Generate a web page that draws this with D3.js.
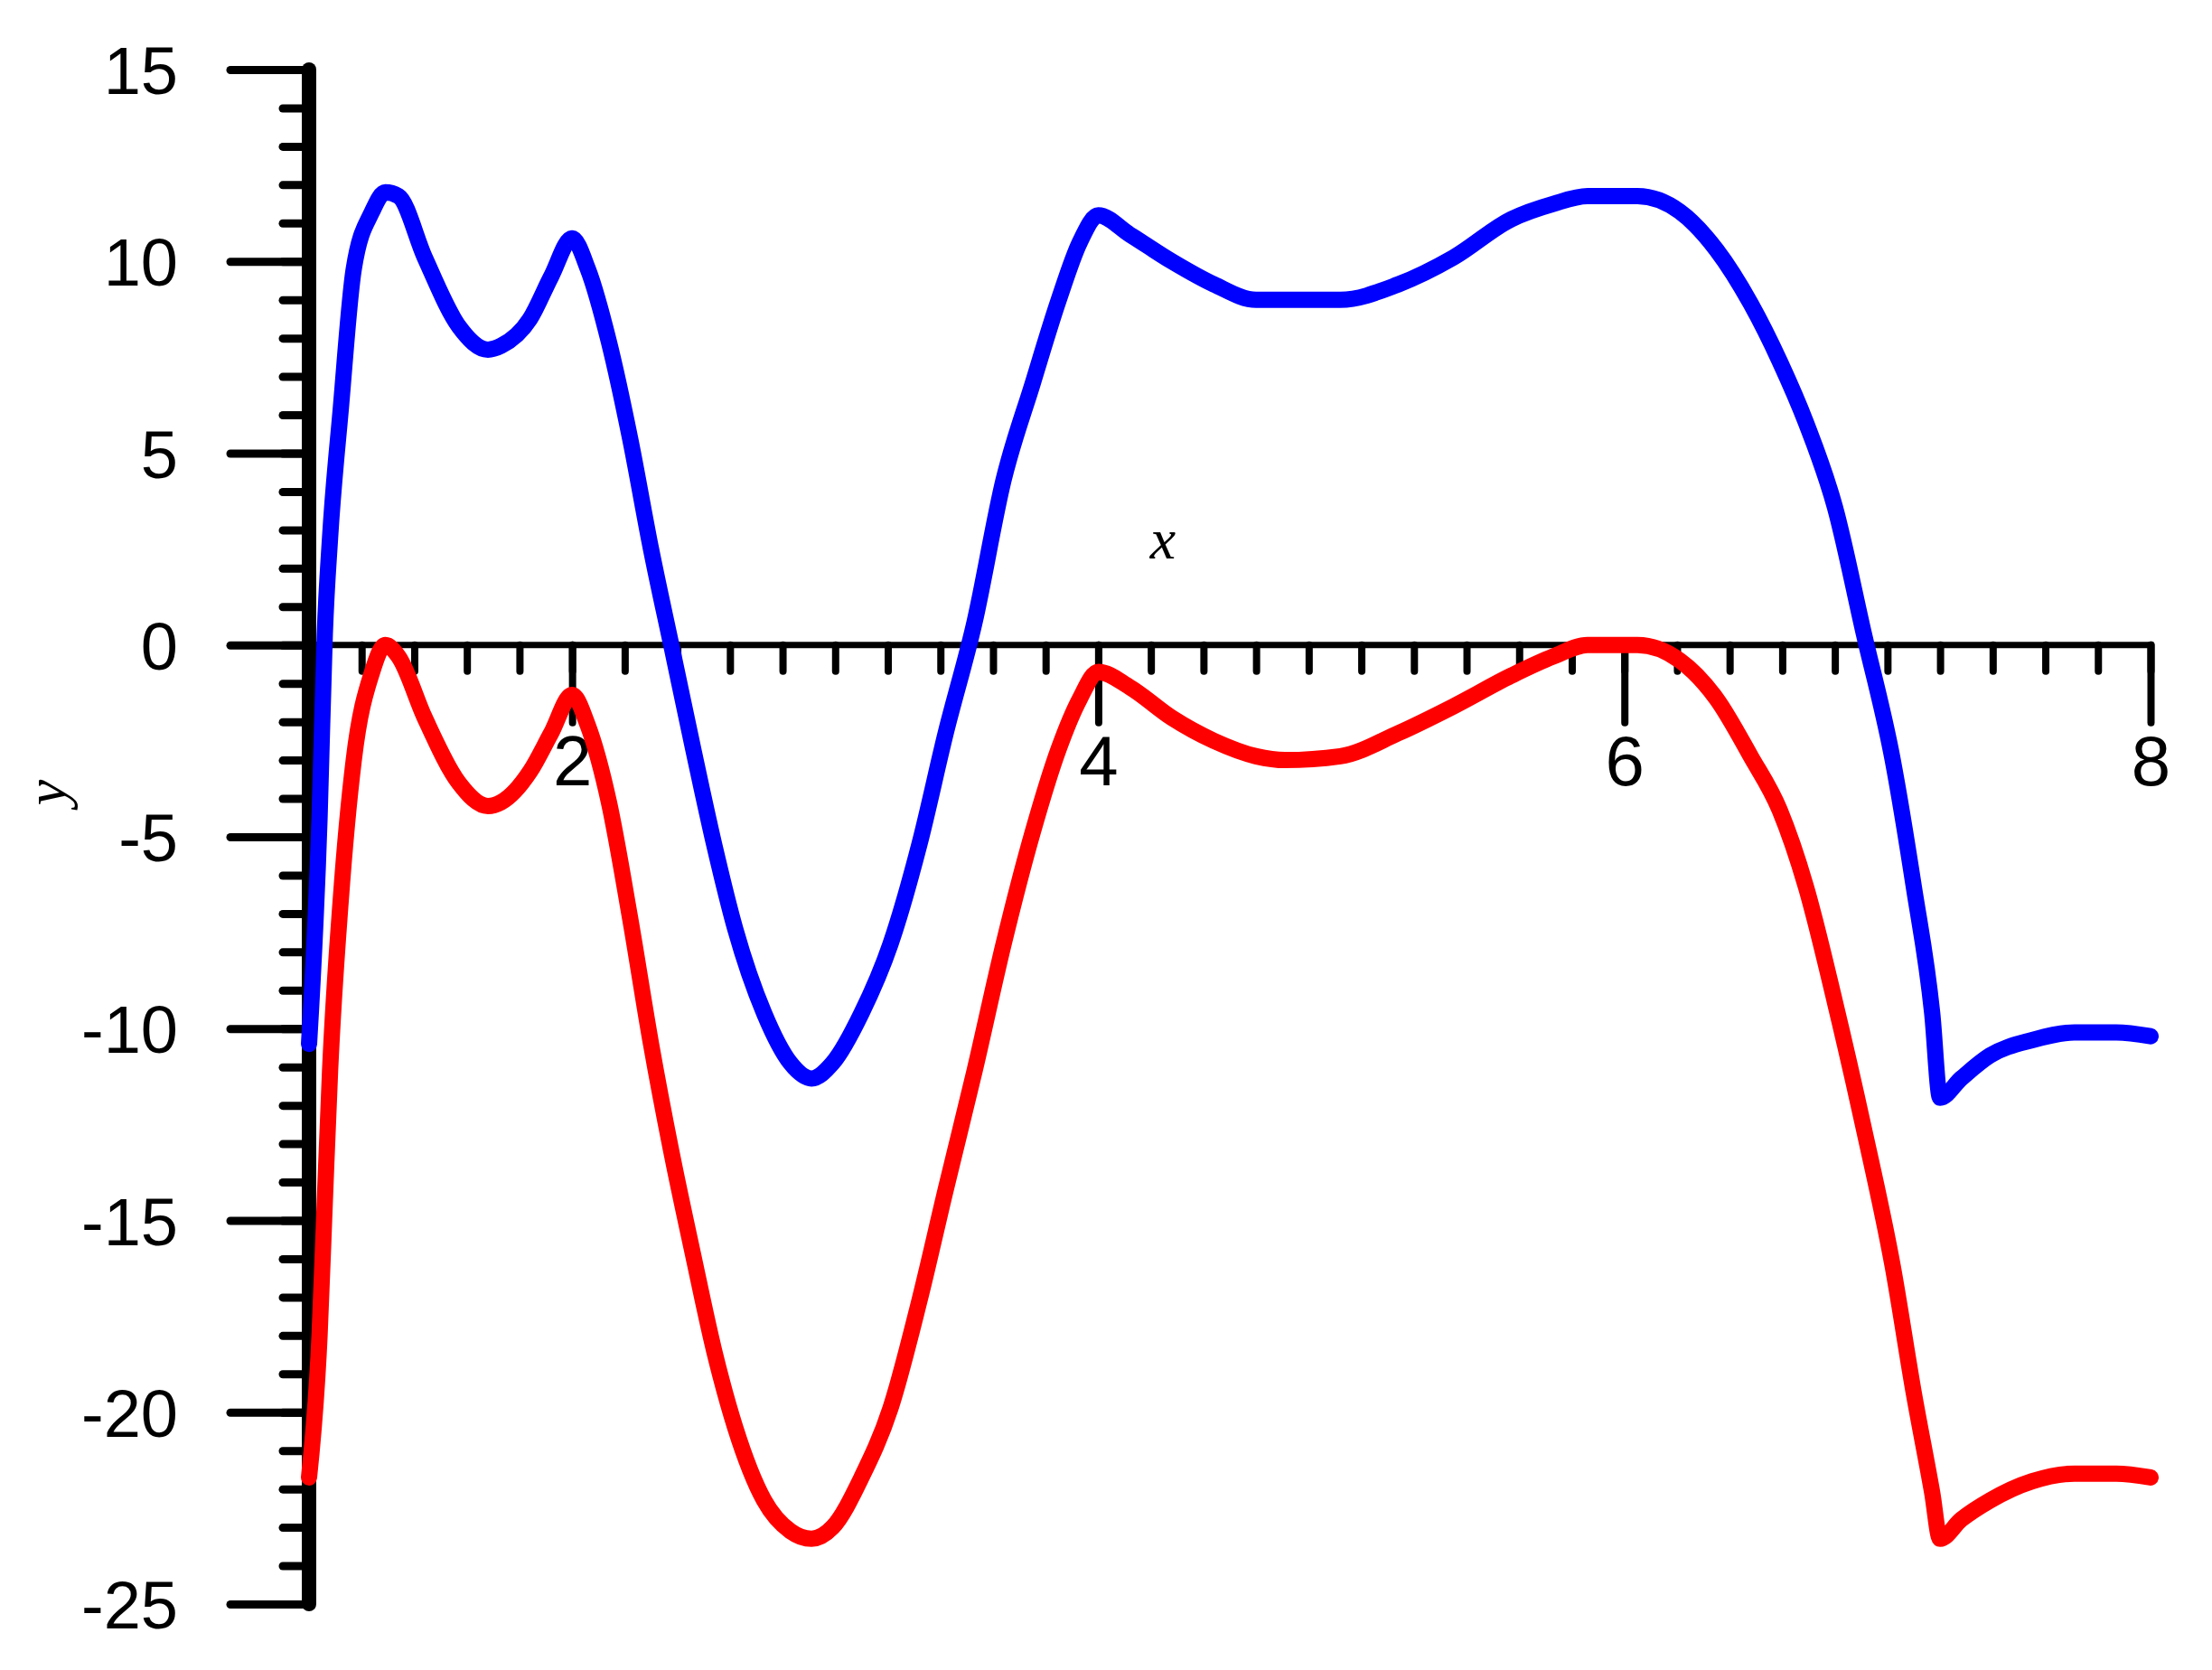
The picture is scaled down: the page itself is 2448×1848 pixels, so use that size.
<!DOCTYPE html>
<html><head><meta charset="utf-8">
<script src="https://cdn.jsdelivr.net/npm/d3@7"></script>
<style>body{margin:0;background:#fff}</style></head>
<body><svg id="c" width="2448" height="1848"></svg>
<script>
const xs =   [1.0,1.04,1.06,1.08,1.12,1.17,1.24,1.29,1.34,1.44,1.57,1.68,1.73,1.84,1.92,2.0,2.06,2.14,2.22,2.30,2.38,2.46,2.54,2.62,2.73,2.83,2.91,2.99,3.10,3.21,3.32,3.42,3.53,3.64,3.75,3.85,3.93,4.0,4.12,4.28,4.44,4.60,4.71,4.92,5.14,5.35,5.57,5.73,5.86,6.05,6.21,6.35,6.48,6.59,6.69,6.80,6.91,7.02,7.10,7.17,7.20,7.28,7.39,7.55,7.71,7.87,8.0];
const blue = [-10.4,-4.5,0.3,2.8,6.1,9.8,11.3,11.8,11.7,10.1,8.3,7.7,7.8,8.5,9.6,10.6,9.8,7.9,5.4,2.5,-0.1,-2.7,-5.2,-7.4,-9.6,-10.9,-11.3,-10.9,-9.6,-7.8,-5.2,-2.3,0.6,4.3,6.8,9.0,10.5,11.2,10.7,10.0,9.4,9.0,9.0,9.0,9.4,10.1,11.1,11.5,11.7,11.7,11.3,10.3,8.9,7.4,5.8,3.6,0.3,-3.0,-6.3,-9.6,-11.8,-11.3,-10.7,-10.3,-10.1,-10.1,-10.2];
const red =  [-21.7,-18.0,-14.5,-11.1,-6.7,-3.0,-0.7,0.0,-0.3,-1.9,-3.6,-4.2,-4.1,-3.3,-2.3,-1.3,-2.1,-4.1,-7.1,-10.4,-13.3,-15.9,-18.4,-20.4,-22.3,-23.1,-23.3,-23.0,-21.7,-19.9,-17.1,-14.2,-11.1,-7.8,-4.9,-2.7,-1.4,-0.7,-1.1,-1.9,-2.5,-2.9,-3.0,-2.9,-2.3,-1.6,-0.8,-0.3,0.0,0.0,-0.4,-1.4,-2.9,-4.3,-6.3,-9.3,-12.6,-16.2,-19.5,-22.1,-23.3,-22.8,-22.3,-21.8,-21.6,-21.6,-21.7];
const yMajor = [15,10,5,0,-5,-10,-15,-20,-25];
const xMajor = [2,4,6,8];

const svg = d3.select("#c");
const x = d3.scaleLinear().domain([1,8]).range([342,2380]);
const y = d3.scaleLinear().domain([15,-25]).range([77,1775]);
const font = "'Liberation Sans', Arial, sans-serif";

// y minor ticks
svg.append("g").attr("transform",`translate(${x(1)},0)`)
  .call(d3.axisLeft(y).tickValues(d3.range(-25,16,1)).tickSize(29).tickFormat(""))
  .call(g=>g.select(".domain").remove())
  .call(g=>g.selectAll("line").attr("stroke","#000").attr("stroke-width",9).attr("stroke-linecap","round"));
// y major
const ya = svg.append("g").attr("transform",`translate(${x(1)},0)`)
  .call(d3.axisLeft(y).tickValues(yMajor).tickSize(87).tickPadding(58).tickFormat(d=>d));
ya.select(".domain").remove();
ya.selectAll("line").attr("stroke","#000").attr("stroke-width",9).attr("stroke-linecap","round");
ya.selectAll("text").attr("font-family",font).attr("font-size",74).attr("fill","#000").attr("dy","0.36em");
// x minor
svg.append("g").attr("transform",`translate(0,${y(0)})`)
  .call(d3.axisBottom(x).tickValues(d3.range(1.2,8.01,0.2)).tickSize(29).tickFormat(""))
  .call(g=>g.select(".domain").remove())
  .call(g=>g.selectAll("line").attr("stroke","#000").attr("stroke-width",8).attr("stroke-linecap","round"));
const xa = svg.append("g").attr("transform",`translate(0,${y(0)})`)
  .call(d3.axisBottom(x).tickValues(xMajor).tickSize(86).tickPadding(14).tickFormat(d=>d));
xa.select(".domain").remove();
xa.selectAll("line").attr("stroke","#000").attr("stroke-width",8).attr("stroke-linecap","round");
xa.selectAll("text").attr("font-family",font).attr("font-size",78).attr("fill","#000");
// axis lines
svg.append("line").attr("x1",x(1)).attr("x2",x(8)).attr("y1",y(0)).attr("y2",y(0))
  .attr("stroke","#000").attr("stroke-width",7).attr("stroke-linecap","round");
svg.append("line").attr("x1",x(1)).attr("x2",x(1)).attr("y1",y(15)).attr("y2",y(-25))
  .attr("stroke","#000").attr("stroke-width",16).attr("stroke-linecap","round");
// labels
svg.append("text").attr("x",1287).attr("y",618).attr("text-anchor","middle")
  .attr("font-family","'Liberation Serif', 'Times New Roman', serif").attr("font-style","italic")
  .attr("font-size",64).text("x");
svg.append("text").attr("transform","translate(72,877) rotate(-90)").attr("text-anchor","middle")
  .attr("font-family","'Liberation Serif', 'Times New Roman', serif").attr("font-style","italic")
  .attr("font-size",64).text("y");
// lines
const line = d3.line().x((d,i)=>x(xs[i])).y(d=>y(d)).curve(d3.curveMonotoneX);
[[blue,"#0000ff"],[red,"#ff0000"]].forEach(([s,c])=>{
  svg.append("path").datum(s).attr("d",line).attr("fill","none").attr("stroke",c)
    .attr("stroke-width",18).attr("stroke-linejoin","round").attr("stroke-linecap","round");
});
</script></body></html>
